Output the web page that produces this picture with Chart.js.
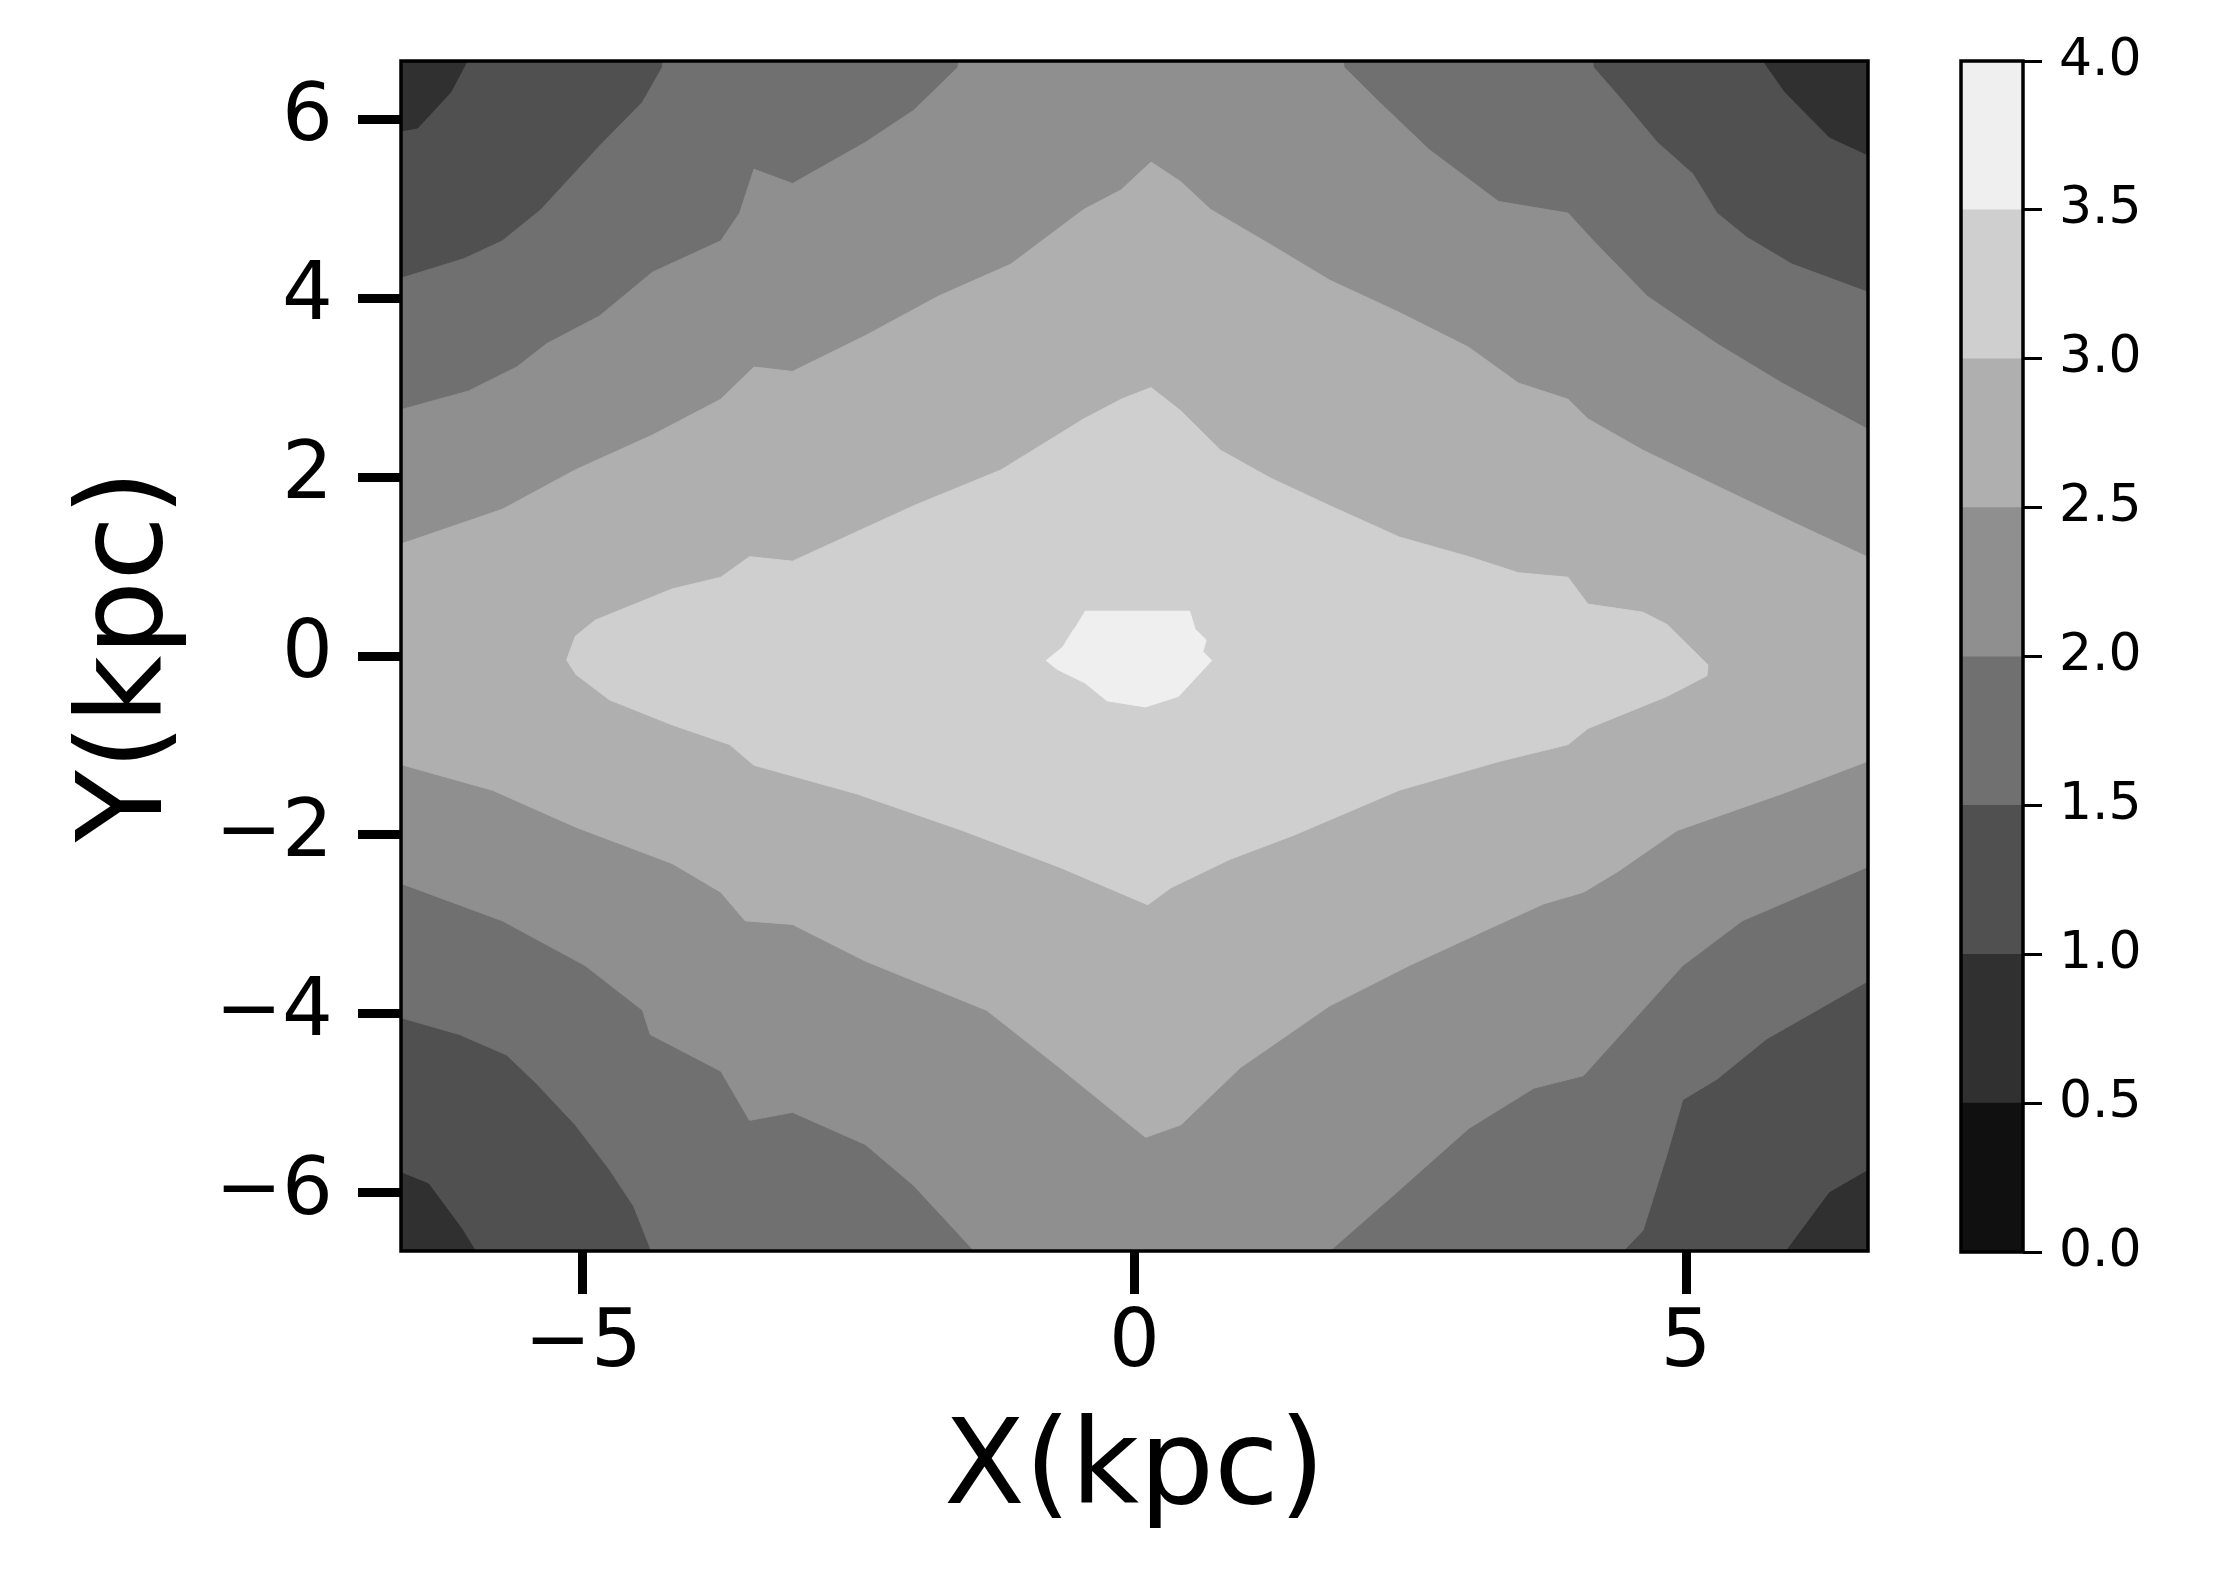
<!DOCTYPE html>
<html>
<head>
<meta charset="utf-8">
<script src="https://cdn.jsdelivr.net/npm/chart.js@4.4.1/dist/chart.umd.min.js"></script>
<style>
  html, body { margin: 0; padding: 0; background: #fff; }
  #wrap { position: relative; width: 2222px; height: 1570px; }
  #field { position: absolute; left: 0; top: 0; }
  #cbar { position: absolute; left: 1900px; top: 0; }
</style>
</head>
<body>
<div id="wrap">
  <canvas id="field" width="1900" height="1570"></canvas>
  <canvas id="cbar" width="322" height="1570"></canvas>
</div>
<script>
Chart.defaults.font.family = 'DejaVu Sans';
Chart.defaults.color = '#000';

const xTicks = [-5, 0, 5];
const yTicks = [-6, -4, -2, 0, 2, 4, 6];
const barTicks = [0, 0.5, 1, 1.5, 2, 2.5, 3, 3.5, 4];
const levels = [0, 0.5, 1, 1.5, 2, 2.5, 3, 3.5, 4];
const xRange = [-6.65, 6.65];
const yRange = [-6.65, 6.65];

// one grey per band of the colorbar
const grays = ['#101010', '#303030', '#505050', '#707070', '#8f8f8f', '#afafaf', '#cfcfcf', '#efefef'];

// contour outlines (x, y in kpc)
const whole = [[-7, -7], [7, -7], [7, 7], [-7, 7]];

// below 1.0: the dark corners
const c10TopLeft = [[-7, 7], [-5.9, 7], [-6.2, 6.3], [-6.5, 5.9], [-7, 5.8]];
const c10TopRight = [[7, 7], [5.5, 7], [5.9, 6.3], [6.3, 5.8], [7, 5.4]];
const c10BottomRight = [[7, -7], [5.7, -7], [6.0, -6.5], [6.3, -6.0], [7, -5.5]];
const c10BottomLeft = [[-7, -7], [-5.8, -7], [-6.1, -6.4], [-6.4, -5.9], [-7, -5.6]];

// 1.5
const c15TopLeft = [[-7, 4.2], [-6.63, 4.23], [-6.08, 4.44], [-5.73, 4.64], [-5.38, 4.99], [-4.85, 5.7], [-4.46, 6.19], [-4.28, 6.58], [-4.25, 7]];
const c15TopRight = [[4.13, 7], [4.16, 6.58], [4.38, 6.27], [4.74, 5.74], [5.06, 5.39], [5.28, 4.95], [5.55, 4.68], [5.96, 4.38], [6.64, 4.07], [7, 3.95]];
const c15BottomRight = [[7, -3.55], [6.64, -3.64], [5.73, -4.28], [5.28, -4.73], [4.97, -4.96], [4.83, -5.56], [4.61, -6.42], [4.43, -6.65], [4.4, -7]];
const c15BottomLeft = [[-4.35, -7], [-4.37, -6.68], [-4.54, -6.15], [-4.76, -5.74], [-5.07, -5.24], [-5.42, -4.78], [-5.69, -4.46], [-6.12, -4.23], [-6.63, -4.05], [-7, -4.0]];

// 2.0
const c20TopLeft = [[-7, 2.7], [-6.63, 2.76], [-6.04, 2.96], [-5.6, 3.23], [-5.33, 3.49], [-4.85, 3.8], [-4.37, 4.29], [-3.75, 4.64], [-3.58, 4.95], [-3.45, 5.44], [-3.1, 5.28], [-2.44, 5.74], [-2.0, 6.1], [-1.6, 6.58], [-1.55, 7]];
const c20TopRight = [[1.85, 7], [1.9, 6.58], [2.22, 6.19], [2.67, 5.66], [3.3, 5.08], [3.93, 4.95], [4.16, 4.64], [4.65, 4.02], [5.28, 3.49], [5.87, 3.05], [6.64, 2.54], [7, 2.4]];
const c20BottomRight = [[7, -2.3], [6.64, -2.36], [5.51, -2.96], [4.97, -3.46], [4.07, -4.69], [3.62, -4.83], [3.03, -5.28], [2.4, -5.97], [1.77, -6.65], [1.7, -7]];
const c20BottomLeft = [[-1.4, -7], [-1.43, -6.68], [-2.0, -5.92], [-2.44, -5.46], [-3.1, -5.1], [-3.49, -5.19], [-3.75, -4.64], [-4.39, -4.23], [-4.46, -3.96], [-4.98, -3.46], [-5.73, -2.96], [-6.63, -2.55], [-7, -2.5]];

// 2.5
const c25Top = [[-7, 1.2], [-6.63, 1.26], [-5.73, 1.64], [-5.07, 2.08], [-4.37, 2.47], [-3.75, 2.87], [-3.45, 3.23], [-3.1, 3.18], [-2.44, 3.58], [-1.78, 4.02], [-1.12, 4.38], [-0.46, 4.99], [-0.12, 5.21], [0.15, 5.52], [0.42, 5.3], [0.69, 4.99], [1.23, 4.6], [1.77, 4.2], [2.4, 3.84], [3.03, 3.45], [3.48, 3.05], [3.93, 2.87], [4.11, 2.65], [4.61, 2.3], [5.28, 1.9], [5.96, 1.5], [6.64, 1.11], [7, 1.0]];
const c25Bottom = [[7, -1.1], [6.64, -1.18], [5.87, -1.54], [4.92, -1.95], [4.38, -2.41], [4.07, -2.64], [3.71, -2.77], [3.21, -3.05], [2.49, -3.46], [1.77, -3.91], [0.96, -4.6], [0.42, -5.24], [0.1, -5.38], [-0.68, -4.6], [-1.34, -3.96], [-2.44, -3.41], [-3.1, -3.0], [-3.53, -2.96], [-3.75, -2.64], [-4.19, -2.32], [-5.07, -1.91], [-5.82, -1.5], [-6.63, -1.22], [-7, -1.15]];

// 3.0 (the diamond)
const c30 = [[-5.15, -0.05], [-5.07, 0.22], [-4.89, 0.4], [-4.19, 0.75], [-3.75, 0.88], [-3.49, 1.11], [-3.1, 1.06], [-2.0, 1.68], [-1.21, 2.08], [-0.46, 2.65], [-0.12, 2.87], [0.15, 3.0], [0.42, 2.74], [0.78, 2.3], [1.23, 1.99], [1.77, 1.68], [2.4, 1.33], [3.03, 1.11], [3.48, 0.93], [3.93, 0.88], [4.11, 0.58], [4.61, 0.49], [4.83, 0.35], [5.2, -0.1], [5.19, -0.22], [4.83, -0.45], [4.11, -0.81], [3.93, -0.99], [3.3, -1.18], [2.4, -1.5], [1.45, -2.0], [0.87, -2.27], [0.33, -2.59], [0.12, -2.78], [-0.68, -2.36], [-1.56, -1.95], [-2.52, -1.54], [-3.45, -1.22], [-3.67, -0.99], [-4.19, -0.77], [-4.76, -0.49], [-5.07, -0.2]];

// 3.5 (the bright core)
const c35 = [[-0.45, 0.5], [0.5, 0.5], [0.55, 0.3], [0.65, 0.18], [0.62, 0.05], [0.7, -0.05], [0.55, -0.25], [0.4, -0.45], [0.1, -0.57], [-0.25, -0.5], [-0.45, -0.3], [-0.7, -0.15], [-0.8, -0.05], [-0.65, 0.1], [-0.55, 0.3]];

const minus = v => (v < 0 ? '\u2212' + Math.abs(v) : String(v));
const pts = arr => arr.map(([x, y]) => ({ x, y }));

// bottom to top, each with the band it starts
const regions = [
  [whole, 1],
  [c10TopLeft, 0.5],
  [c10TopRight, 0.5],
  [c10BottomRight, 0.5],
  [c10BottomLeft, 0.5],
  [[...c15TopLeft, ...c15TopRight, ...c15BottomRight, ...c15BottomLeft], 1.5],
  [[...c20TopLeft, ...c20TopRight, ...c20BottomRight, ...c20BottomLeft], 2],
  [[...c25Top, ...c25Bottom], 2.5],
  [c30, 3],
  [c35, 3.5]
];

const datasets = regions.map(([shape, lvl], i) => {
  const c = grays[levels.indexOf(lvl)];
  return {
    data: pts(shape),
    backgroundColor: c,
    borderColor: c,
    borderWidth: 1,
    pointRadius: 0,
    tension: 0,
    fill: 'shape',
    order: -i
  };
});

const frame = {
  id: 'frame',
  afterDatasetsDraw(chart, args, opts) {
    const { ctx, chartArea: a } = chart;
    ctx.save();
    ctx.lineWidth = opts.width;
    ctx.strokeStyle = '#000';
    ctx.strokeRect(a.left, a.top, a.right - a.left, a.bottom - a.top);
    ctx.restore();
  }
};

const field = new Chart(document.getElementById('field'), {
  type: 'line',
  data: { datasets },
  options: {
    responsive: false,
    animation: false,
    layout: { padding: { top: 61, right: 32, bottom: 0, left: 0 } },
    plugins: {
      legend: { display: false },
      tooltip: { enabled: false },
      frame: { width: 3.5 }
    },
    scales: {
      x: {
        type: 'linear',
        min: xRange[0],
        max: xRange[1],
        afterBuildTicks: s => { s.ticks = xTicks.map(v => ({ value: v })); },
        afterFit: s => { s.height = 319; s.paddingLeft = 0; s.paddingRight = 0; },
        ticks: { font: { size: 80 }, padding: 3, maxRotation: 0, autoSkip: false, callback: v => minus(v) },
        grid: { drawOnChartArea: false, tickLength: 43, tickWidth: 9, tickColor: '#000' },
        border: { display: false },
        title: { display: true, text: 'X(kpc)', font: { size: 118 }, padding: { top: 0, bottom: 27 } }
      },
      y: {
        type: 'linear',
        min: yRange[0],
        max: yRange[1],
        afterBuildTicks: s => { s.ticks = yTicks.map(v => ({ value: v })); },
        afterFit: s => { s.width = 401; s.paddingTop = 0; s.paddingBottom = 0; },
        ticks: { font: { size: 80 }, padding: 25, autoSkip: false, callback: v => minus(v) },
        grid: { drawOnChartArea: false, tickLength: 43, tickWidth: 9, tickColor: '#000' },
        border: { display: false },
        title: { display: true, text: 'Y(kpc)', font: { size: 118 }, padding: { top: 60, bottom: 0 } }
      }
    }
  },
  plugins: [frame]
});

// colorbar: one floating bar per band
const cbar = new Chart(document.getElementById('cbar'), {
  type: 'bar',
  data: {
    labels: [''],
    datasets: grays.map((c, i) => ({
      data: [[levels[i], levels[i + 1]]],
      backgroundColor: c,
      borderWidth: 0,
      barPercentage: 1,
      categoryPercentage: 1,
      grouped: false
    }))
  },
  options: {
    responsive: false,
    animation: false,
    layout: { padding: { top: 61, right: 0, bottom: 318, left: 61 } },
    plugins: {
      legend: { display: false },
      tooltip: { enabled: false },
      frame: { width: 3.5 }
    },
    scales: {
      x: { display: false },
      y: {
        position: 'right',
        min: levels[0],
        max: levels[levels.length - 1],
        afterBuildTicks: s => { s.ticks = barTicks.map(v => ({ value: v })); },
        afterFit: s => { s.width = 199; s.paddingTop = 0; s.paddingBottom = 0; },
        ticks: { font: { size: 52 }, padding: 17, autoSkip: false, callback: v => v.toFixed(1) },
        grid: { drawOnChartArea: false, tickLength: 19, tickWidth: 3, tickColor: '#000' },
        border: { display: false }
      }
    }
  },
  plugins: [frame]
});
</script>
</body>
</html>
